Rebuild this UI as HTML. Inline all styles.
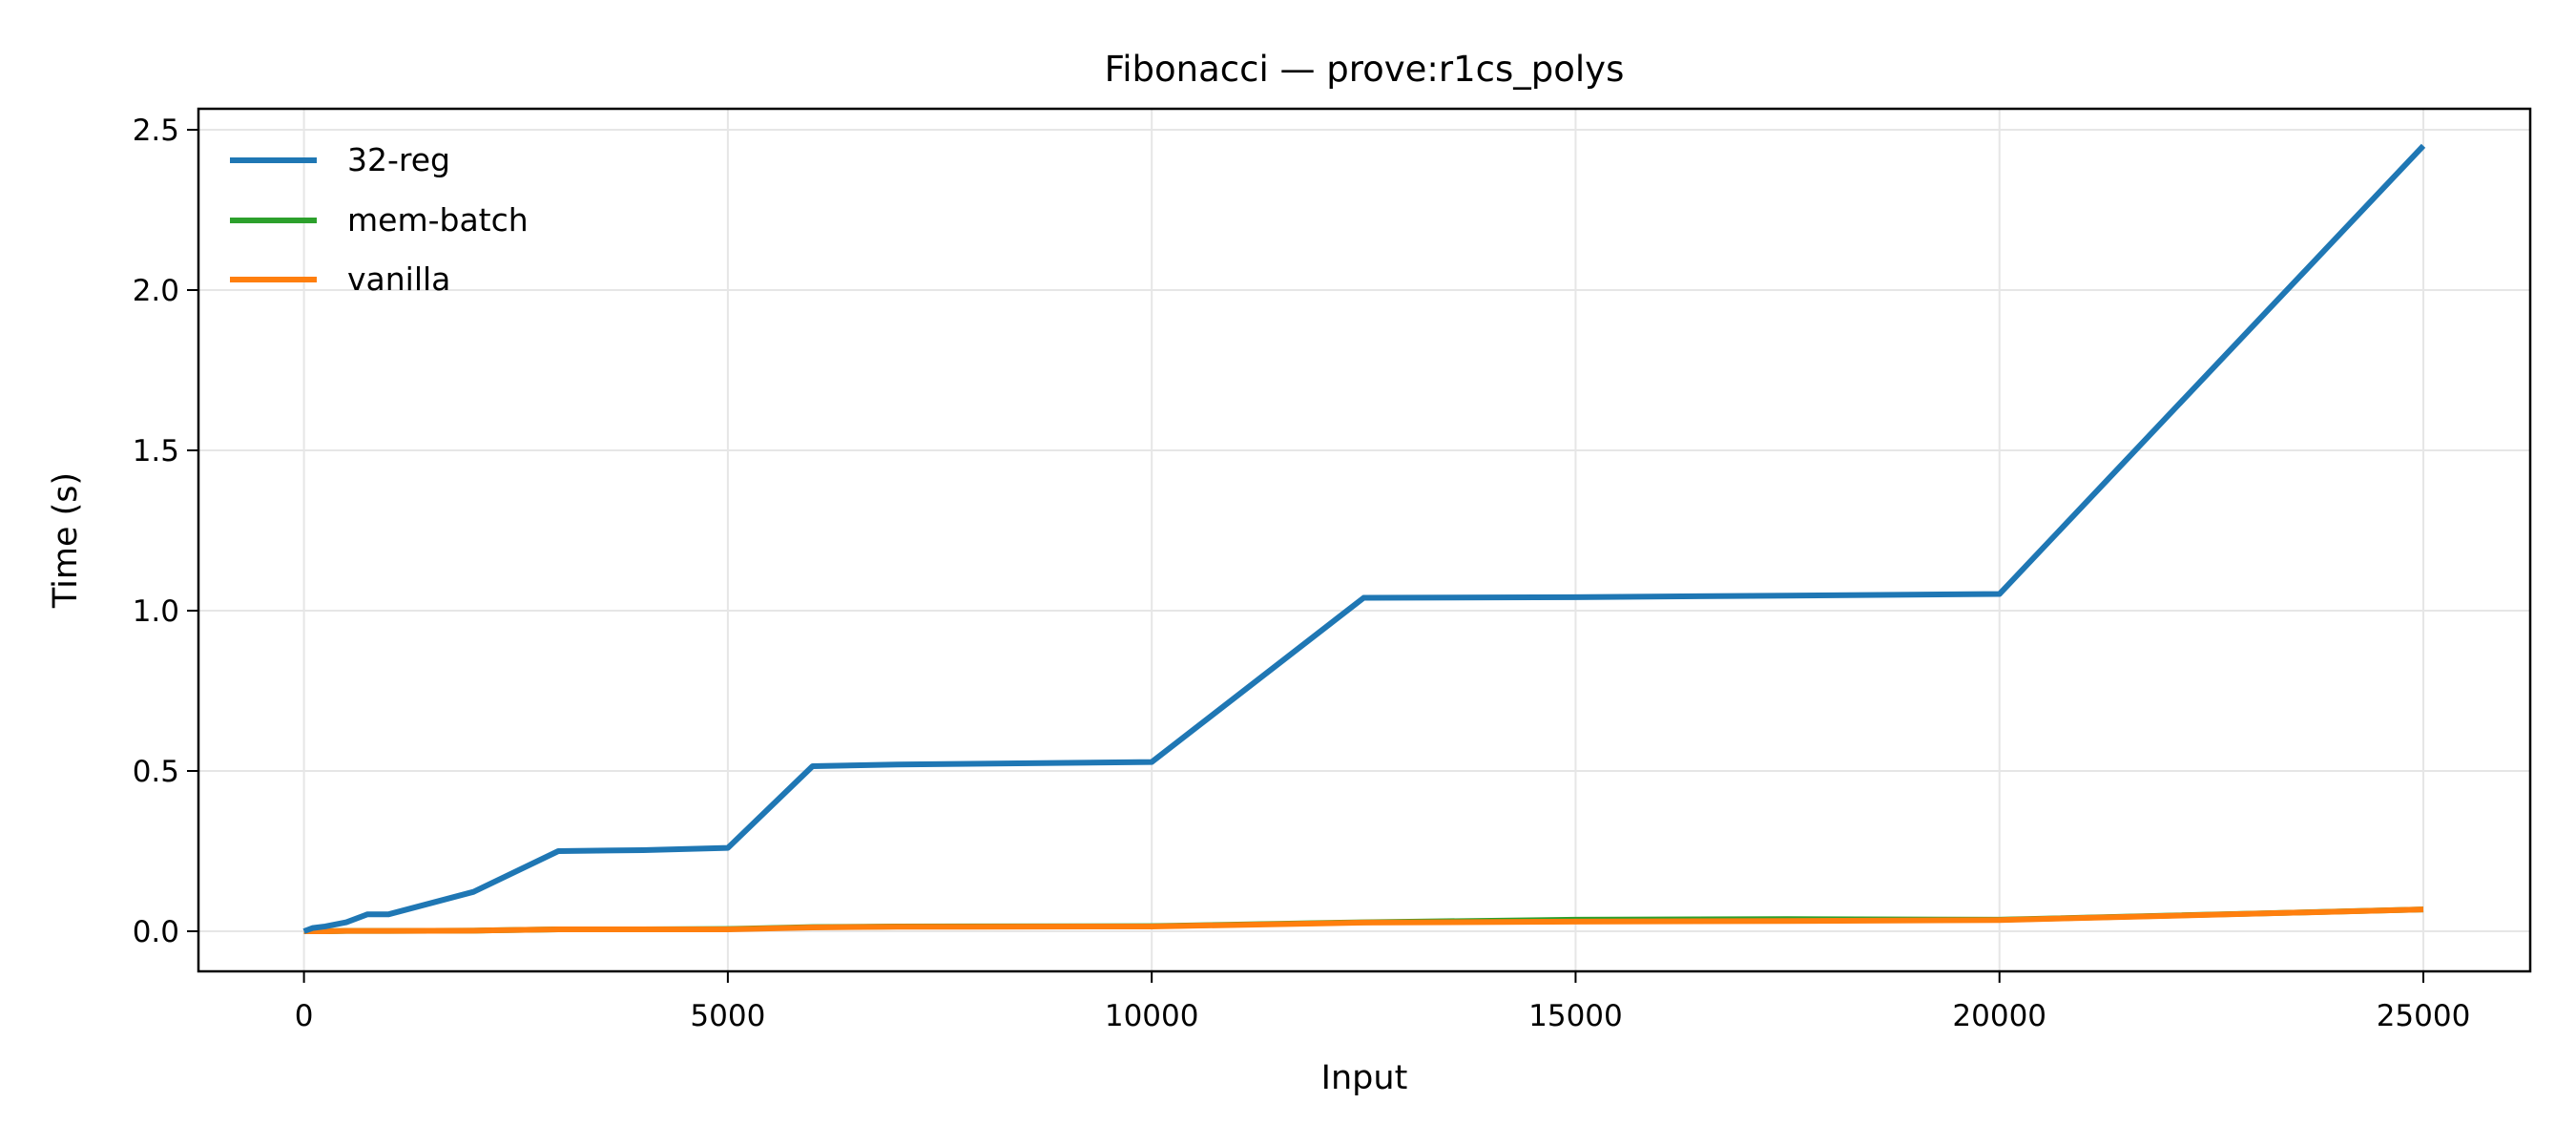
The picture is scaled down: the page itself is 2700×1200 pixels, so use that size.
<!DOCTYPE html>
<html><head><meta charset="utf-8"><style>
body{margin:0;background:#fff}
svg{display:block;font-family:"DejaVu Sans","Liberation Sans",sans-serif}
</style></head><body>
<svg id="chart" width="2700" height="1200" viewBox="0 0 2700 1200">
<rect width="2700" height="1200" fill="#fff"/>
<g id="grid"></g><g id="series"></g><g id="axes"></g>
<text x="1430" y="85" text-anchor="middle" font-size="37">Fibonacci — prove:r1cs_polys</text>
<text x="1430" y="1141" text-anchor="middle" font-size="35">Input</text>
<text x="80" y="566" text-anchor="middle" font-size="35" transform="rotate(-90 80 566)">Time (s)</text>
<g>
<line x1="241" y1="168" x2="332" y2="168" stroke="#1f77b4" stroke-width="6"/>
<text x="364" y="179" font-size="33">32-reg</text>
<line x1="241" y1="231" x2="332" y2="231" stroke="#2ca02c" stroke-width="6"/>
<text x="364" y="242" font-size="33">mem-batch</text>
<line x1="241" y1="293" x2="332" y2="293" stroke="#ff7f0e" stroke-width="6"/>
<text x="364" y="304" font-size="33">vanilla</text>
</g>
</svg>
<script>
const xs = [0,100,250,500,750,1000,2000,3000,4000,5000,6000,7000,10000,12500,15000,17500,20000,25000];
const reg32 = [0,0.01,0.015,0.028,0.053,0.053,0.123,0.25,0.253,0.26,0.515,0.52,0.528,1.04,1.042,1.047,1.052,2.45];
const memBatch = [0,0,0,0.001,0.001,0.001,0.002,0.006,0.006,0.007,0.013,0.015,0.016,0.028,0.036,0.038,0.036,0.068];
const vanilla = [0,0,0,0.001,0.001,0.001,0.002,0.006,0.006,0.006,0.012,0.014,0.015,0.027,0.03,0.032,0.035,0.068];
const xTicks = [0,5000,10000,15000,20000,25000];
const yTicks = [0,0.5,1.0,1.5,2.0,2.5];
const L=208,R=2652,T=114,B=1018;
const X=v=>318.6+(v/25000)*(2540-318.6);
const Y=v=>976-(v/2.5)*(976-136);
const NS='http://www.w3.org/2000/svg';
function mk(tag,attrs,parent){const e=document.createElementNS(NS,tag);for(const k in attrs)e.setAttribute(k,attrs[k]);parent.appendChild(e);return e;}
const grid=document.getElementById('grid'),axes=document.getElementById('axes'),ser=document.getElementById('series');
xTicks.forEach(t=>{
  const g=mk('line',{x1:X(t),x2:X(t),y1:T,y2:B,stroke:'#e6e6e6','stroke-width':2},grid);
  
  
  mk('line',{x1:X(t),x2:X(t),y1:B,y2:B+12,stroke:'#000','stroke-width':2},axes);
  const tx=mk('text',{x:X(t),y:1075,'text-anchor':'middle','font-size':31},axes);
  tx.textContent=String(t);
  
  
});
yTicks.forEach(t=>{
  const g=mk('line',{x1:L,x2:R,y1:Y(t),y2:Y(t),stroke:'#e6e6e6','stroke-width':2},grid);
  
  
  mk('line',{x1:L-12,x2:L,y1:Y(t),y2:Y(t),stroke:'#000','stroke-width':2},axes);
  const tx=mk('text',{x:L-20,y:Y(t)+11,'text-anchor':'end','font-size':31},axes);
  tx.textContent=t.toFixed(1);
  
  
});
const fr=mk('rect',{x:L,y:T,width:R-L,height:B-T,fill:'none',stroke:'#000','stroke-width':2.5},axes);


[[memBatch,'#2ca02c','series-mem-batch'],[vanilla,'#ff7f0e','series-vanilla'],[reg32,'#1f77b4','series-32-reg']].forEach(([d,c,n])=>{
  const p=mk('polyline',{points:xs.map((x,i)=>X(x)+','+Y(d[i])).join(' '),fill:'none',stroke:c,'stroke-width':6,'stroke-linejoin':'round'},ser);
  
  
});
</script>
</body></html>
